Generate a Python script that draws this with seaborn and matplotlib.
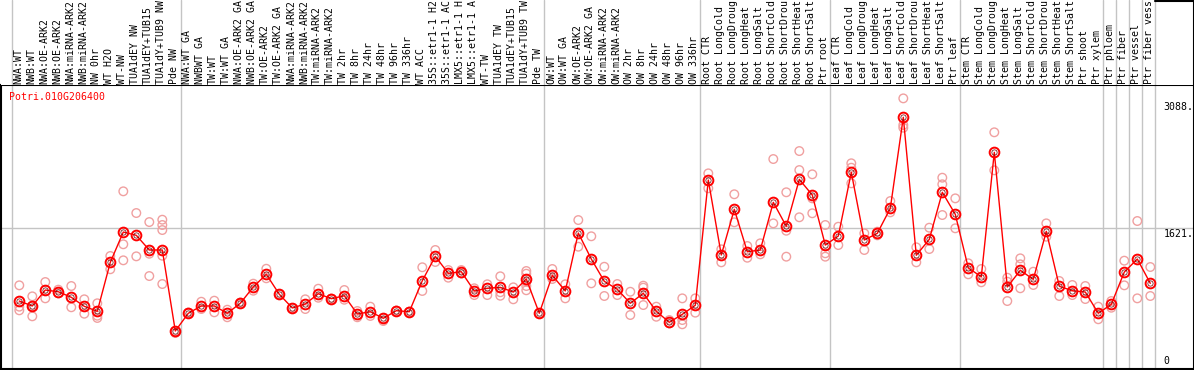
import numpy as np
import pandas as pd
import matplotlib
matplotlib.use("Agg")
import matplotlib.pyplot as plt
import seaborn as sns

gene = "Potri.010G206400"

# sample names as shown in the header (names are cut to 14 characters there)
samples = [
    "NWA:WT", "NWB:WT", "NWA:OE-ARK2", "NWB:OE-ARK2", "NWA:miRNA-ARK2", "NWB:miRNA-ARK2",
    "NW 0hr", "WT H2O", "WT-NW", "TUA1dEY NW", "TUA1dEY+TUB15", "TUA1dY+TUB9 NW", "Pde NW",
    "NWA:WT GA", "NWBWT GA", "TW:WT", "TW:WT GA", "NWA:OE-ARK2 GA", "NWB:OE-ARK2 GA",
    "TW:OE-ARK2", "TW:OE-ARK2 GA", "NWA:miRNA-ARK2", "NWB:miRNA-ARK2", "TW:miRNA-ARK2",
    "TW:miRNA-ARK2", "TW 2hr", "TW 8hr", "TW 24hr", "TW 48hr", "TW 96hr", "TW 336hr",
    "WT ACC", "35S::etr1-1 H2", "35S::etr1-1 AC", "LMX5::etr1-1 H", "LMX5::etr1-1 A",
    "WT-TW", "TUA1dEY TW", "TUA1dEY+TUB15", "TUA1dY+TUB9 TW", "Pde TW",
    "OW:WT", "OW:WT GA", "OW:OE-ARK2", "OW:OE-ARK2 GA", "OW:miRNA-ARK2", "OW:miRNA-ARK2",
    "OW 2hr", "OW 8hr", "OW 24hr", "OW 48hr", "OW 96hr", "OW 336hr",
    "Root CTR", "Root LongCold", "Root LongDroug", "Root LongHeat", "Root LongSalt",
    "Root ShortCold", "Root ShortDrou", "Root ShortHeat", "Root ShortSalt", "Ptr root",
    "Leaf CTR", "Leaf LongCold", "Leaf LongDroug", "Leaf LongHeat", "Leaf LongSalt",
    "Leaf ShortCold", "Leaf ShortDrou", "Leaf ShortHeat", "Leaf ShortSalt", "Ptr leaf",
    "Stem CTR", "Stem LongCold", "Stem LongDroug", "Stem LongHeat", "Stem LongSalt",
    "Stem ShortCold", "Stem ShortDrou", "Stem ShortHeat", "Stem ShortSalt",
    "Ptr shoot", "Ptr xylem", "Ptr phloem", "Ptr fiber", "Ptr vessel", "Ptr fiber vess",
]

means = [
    783, 726, 910, 890, 826, 722, 665, 1229, 1578, 1540, 1371, 1371, 438,
    642, 726, 726, 642, 757, 945, 1091, 861, 703, 749, 867, 810, 844, 634, 660,
    584, 672, 660, 1017, 1298, 1102, 1121, 899, 930, 941, 887, 1037, 642,
    1079, 899, 1567, 1267, 1010, 918, 757, 872, 665, 538, 630, 734,
    2177, 1313, 1840, 1351, 1371, 1920, 1644, 2185, 2004, 1428,
    1532, 2266, 1486, 1563, 1851, 2900, 1310, 1494, 2036, 1782,
    1164, 1063, 2496, 945, 1137, 1033, 1586, 953, 902,
    887, 642, 745, 1117, 1267, 987,
]

replicates = [
    [964, 718, 676], [837, 607, 726], [1002, 814], [914, 872], [956, 711],
    [803, 637], [757, 614, 588], [1302, 1149], [2047, 1437, 1252], [1797, 1298],
    [1693, 1328, 1071], [1720, 1659, 1601, 1305, 979], [438, 415],
    [642, 650], [775, 691], [787, 653], [683, 596], [749, 765], [983, 902],
    [1155, 1045], [861, 861], [703, 703], [803, 691], [925, 821], [810, 810],
    [910, 798], [668, 596], [718, 611], [553, 584], [672, 672], [660, 660],
    [1172, 899], [1371, 1233], [1140, 1052], [1140, 1100], [930, 852],
    [976, 852], [1068, 884, 844], [941, 803], [1129, 1098, 1006, 956, 907], [642, 642],
    [1152, 1037], [976, 814], [1716, 1409], [1529, 987], [1178, 841], [979, 852],
    [890, 622], [960, 937, 737], [718, 602], [564, 526], [814, 564, 515], [814, 649],
    [2254, 2082], [1379, 1229], [2013, 1690], [1417, 1282], [1448, 1321],
    [2419, 1678], [2036, 1593, 1294], [2511, 2292, 1748], [2243, 1966, 1794],
    [1659, 1333, 1294],
    [1639, 1428], [2370, 2319, 2139], [1563, 1371], [1582, 1540], [1935, 1805],
    [3118, 2811, 2780], [1402, 1229], [1628, 1382], [2204, 2128, 1774], [1966, 1621],
    [1218, 1091], [1152, 999], [2727, 2289], [1052, 1006, 783], [1275, 1206, 930],
    [1121, 968], [1678, 1524], [1014, 841], [968, 852],
    [956, 806], [718, 573], [783, 706], [1248, 964], [1705, 814], [1175, 841],
]

group_sizes = [13, 28, 12, 10, 10, 11, 1, 1, 1, 1]
tick_values = [0, 1621, 3088]
tick_labels = ["0", "1621.", "3088."]
grid_value = 1621
y_top = 3272

# ---------------------------------------------------------------
W, H = 1194, 370
sns.set_style("white")
plt.rcParams["font.family"] = ["DejaVu Sans Mono"]
FS = 7.1

fig = plt.figure(figsize=(W / 100, H / 100), dpi=100)
fig.patch.set_facecolor("white")

step, x0 = 13.0, 19.3
xlim = ((0.5 - x0) / step, (1193.5 - x0) / step)

ax = fig.add_axes([0.5 / W, 1 / H, 1193 / W, 284 / H])
axh = fig.add_axes([0.5 / W, 285 / H, 1193 / W, 85 / H])

idx = np.arange(len(samples))
df_mean = pd.DataFrame({"idx": idx, "value": means, "sample": samples})
rep_rows = [(i, v) for i, reps in enumerate(replicates) for v in reps]
df_rep = pd.DataFrame(rep_rows, columns=["idx", "value"])

grid_c = "#c4c4c4"
bounds = [-0.6] + list(np.cumsum(group_sizes) - 0.6)
for b in bounds:
    ax.axvline(b, color=grid_c, lw=1, zorder=0)
    axh.axvline(b, color=grid_c, lw=1, zorder=0)
ax.axhline(grid_value, color=grid_c, lw=1, zorder=0)

sns.scatterplot(data=df_rep, x="idx", y="value", ax=ax, s=38, marker="o",
                linewidth=1.0, legend=False, zorder=2)
coll = ax.collections[-1]
coll.set_facecolor("none")
coll.set_edgecolor("#f0a0a0")

sns.lineplot(data=df_mean, x="idx", y="value", ax=ax, color="red", lw=1,
             marker="o", markersize=7, markerfacecolor="none",
             markeredgecolor="red", markeredgewidth=1.4, zorder=3, legend=False)
ax.plot(idx, means, ls="none", marker="o", markersize=3.8, markerfacecolor="none",
        markeredgecolor="#600000", markeredgewidth=0.5, zorder=4)

ax.set_xlim(*xlim)
ax.set_ylim(0, y_top)
ax.set_xticks([]); ax.set_yticks([])
ax.set_xlabel(""); ax.set_ylabel("")
for s in ax.spines.values():
    s.set_visible(True)
    s.set_color("black")
    s.set_linewidth(1.5)

for v, lab in zip(tick_values, tick_labels):
    if v == 0:
        ax.annotate(lab, (88.0, v), xytext=(0, 3), textcoords="offset pixels",
                    ha="left", va="bottom", fontsize=FS, color="black")
    else:
        ax.annotate(lab, (88.0, v), xytext=(0, -1), textcoords="offset pixels",
                    ha="left", va="top", fontsize=FS, color="black")

# header with sample names
axh.set_xlim(*xlim)
axh.set_ylim(85, 0)
axh.set_xticks([]); axh.set_yticks([])
for k, s in axh.spines.items():
    s.set_visible(k == "right")
    s.set_color("black")
    s.set_linewidth(1.5)
axh.plot([bounds[-1], xlim[1]], [0.6, 0.6], color="black", lw=1.5, clip_on=False)
for i, name in enumerate(samples):
    axh.text(i - 0.08, 83.5, name, rotation=90, ha="center", va="bottom",
             fontsize=FS, color="black", clip_on=True)

fig.text(9.5 / W, 1 - 92.5 / H, gene, ha="left", va="top", fontsize=FS, color="red")

fig.savefig("out.png", dpi=100, facecolor="white")
